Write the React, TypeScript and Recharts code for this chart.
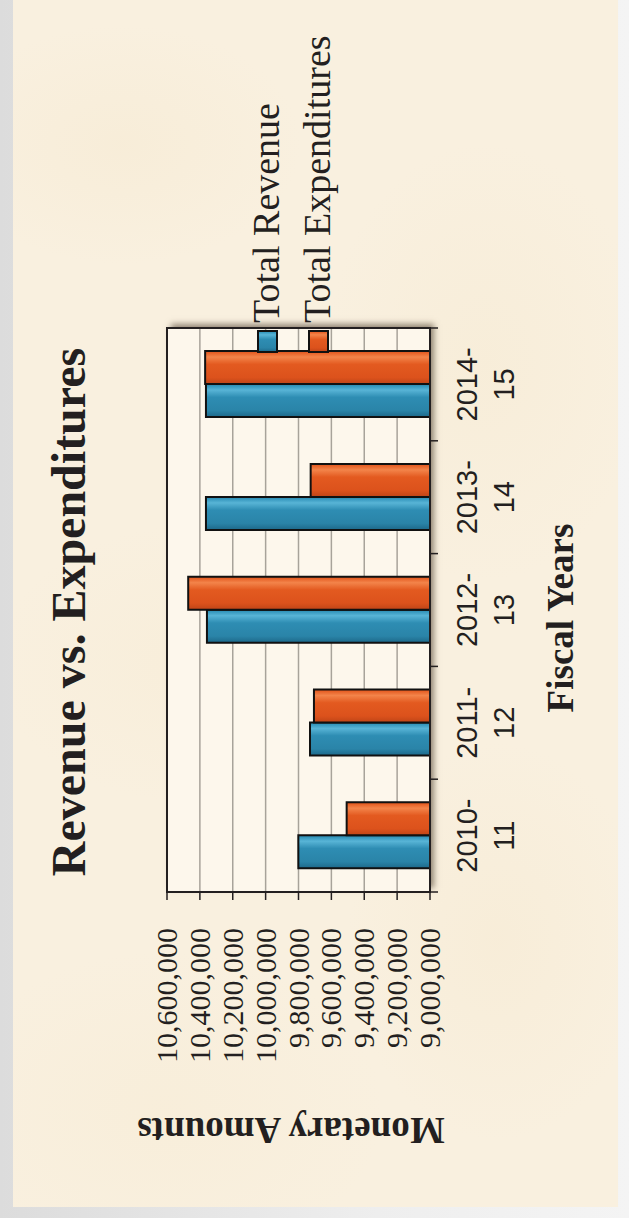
import React from "react";
import {
  BarChart,
  Bar,
  XAxis,
  YAxis,
  CartesianGrid,
  Legend,
  ReferenceArea,
} from "recharts";

const years = ["2010-11", "2011-12", "2012-13", "2013-14", "2014-15"];
const totalRevenue = [9801000, 9730000, 10357000, 10363000, 10363000];
const totalExpenditures = [9507000, 9706000, 10471000, 9726000, 10368000];
const amountTicks = [
  9000000, 9200000, 9400000, 9600000, 9800000, 10000000, 10200000, 10400000,
  10600000,
];

const data = years.map((year, i) => ({
  year,
  revenue: totalRevenue[i],
  expenditures: totalExpenditures[i],
}));

// chart is drawn upright at W x H, then turned a quarter turn to fit the page
const W = 1218;
const H = 629;
const PLOT = { left: 326, top: 167, right: 890, bottom: 430 };
const X_AXIS_H = 150;

const SERIF = '"Liberation Serif", "Times New Roman", serif';
const SANS = '"Liberation Sans", Arial, sans-serif';
const INK = "#231f20";

const seriesOrder = ["revenue", "expenditures"];
const swatch: Record<string, string> = {
  revenue: "url(#gradRevenue)",
  expenditures: "url(#gradExpend)",
};

function YearTick({ x, payload, index }: any) {
  const [first, second] = String(payload.value).split("-");
  const half = (PLOT.right - PLOT.left) / years.length / 2;
  const tickLine = (tx: number) => (
    <line
      x1={tx}
      x2={tx}
      y1={PLOT.bottom}
      y2={PLOT.bottom + 8}
      stroke={INK}
      strokeWidth={1.5}
    />
  );
  return (
    <g>
      {tickLine(x - half)}
      {index === years.length - 1 && tickLine(x + half)}
      <text
        x={x}
        y={PLOT.bottom + 47}
        textAnchor="middle"
        fontFamily={SANS}
        fontSize={29}
        fill={INK}
      >
        {first}-
      </text>
      <text
        x={x}
        y={PLOT.bottom + 84}
        textAnchor="middle"
        fontFamily={SANS}
        fontSize={29}
        fill={INK}
      >
        {second}
      </text>
    </g>
  );
}

function AmountTick({ x, y, payload }: any) {
  return (
    <text
      x={x}
      y={y}
      dy={10}
      textAnchor="end"
      fontFamily={SERIF}
      fontSize={30}
      fill={INK}
    >
      {Number(payload.value).toLocaleString("en-US")}
    </text>
  );
}

function FiscalTitle() {
  return (
    <text
      x={600}
      y={573}
      textAnchor="middle"
      fontFamily={SERIF}
      fontWeight="bold"
      fontSize={37}
      fill={INK}
    >
      Fiscal Years
    </text>
  );
}

function AmountTitle() {
  const cx = 100;
  const cy = 291;
  return (
    <text
      x={cx}
      y={cy}
      transform={`rotate(-90 ${cx} ${cy})`}
      textAnchor="middle"
      fontFamily={SERIF}
      fontWeight="bold"
      fontSize={37}
      fill={INK}
    >
      Monetary Amounts
    </text>
  );
}

function SeriesKey({ payload }: any) {
  if (!payload?.length) return null;
  const items = [...payload].sort(
    (a: any, b: any) =>
      seriesOrder.indexOf(a.dataKey) - seriesOrder.indexOf(b.dataKey)
  );
  return (
    <div style={{ position: "relative" }}>
      {items.map((item: any, i: number) => (
        <div
          key={item.value}
          style={{ position: "absolute", left: 0, top: i * 51, height: 51, width: 300 }}
        >
          <svg
            width={23}
            height={21}
            style={{ position: "absolute", left: 0, top: 10 }}
          >
            <rect
              x={1}
              y={1}
              width={21}
              height={19}
              fill={swatch[item.dataKey] ?? item.color}
              stroke="#111"
              strokeWidth={2}
            />
          </svg>
          <span
            style={{
              position: "absolute",
              left: 30,
              top: 0,
              fontFamily: SERIF,
              fontSize: 38,
              lineHeight: "38px",
              color: INK,
              whiteSpace: "nowrap",
            }}
          >
            {item.value}
          </span>
        </div>
      ))}
    </div>
  );
}

const parchment = [
  "radial-gradient(ellipse 180px 120px at 18% 12%, rgba(240,222,186,0.18), transparent)",
  "radial-gradient(ellipse 160px 220px at 78% 30%, rgba(240,224,190,0.18), transparent)",
  "radial-gradient(ellipse 200px 140px at 30% 55%, rgba(242,226,192,0.16), transparent)",
  "radial-gradient(ellipse 150px 200px at 80% 78%, rgba(240,222,186,0.18), transparent)",
  "radial-gradient(ellipse 220px 160px at 25% 92%, rgba(242,226,192,0.16), transparent)",
  "#f9f0df",
].join(", ");

export default function App() {
  return (
    <div
      style={{
        position: "absolute",
        left: 0,
        top: 0,
        width: 629,
        height: 1218,
        overflow: "hidden",
        background: "linear-gradient(90deg, #dcdcdc, #eeeeee 60%, #f4f4f4)",
      }}
    >
      <svg width={0} height={0} style={{ position: "absolute" }}>
        <defs>
          <linearGradient id="gradRevenue" x1="0" y1="0" x2="1" y2="0">
            <stop offset="0%" stopColor="#1d6889" />
            <stop offset="20%" stopColor="#2a84a8" />
            <stop offset="60%" stopColor="#2e8db3" />
            <stop offset="82%" stopColor="#58b4d6" />
            <stop offset="94%" stopColor="#3597bd" />
            <stop offset="100%" stopColor="#2a82a5" />
          </linearGradient>
          <linearGradient id="gradExpend" x1="0" y1="0" x2="1" y2="0">
            <stop offset="0%" stopColor="#bf4417" />
            <stop offset="20%" stopColor="#dc521c" />
            <stop offset="60%" stopColor="#e35a20" />
            <stop offset="82%" stopColor="#f3844a" />
            <stop offset="94%" stopColor="#e76228" />
            <stop offset="100%" stopColor="#d9531e" />
          </linearGradient>
        </defs>
      </svg>

      <div
        style={{
          position: "absolute",
          left: 13,
          top: 0,
          width: 605,
          height: 1207,
          background: parchment,
        }}
      />

      <div
        style={{
          position: "absolute",
          left: 0,
          top: 0,
          width: W,
          height: H,
          transformOrigin: "0 0",
          transform: `translateY(${W}px) rotate(-90deg)`,
        }}
      >
        <div
          style={{
            position: "absolute",
            left: 0,
            top: 45,
            width: 1212,
            textAlign: "center",
            fontFamily: SERIF,
            fontWeight: "bold",
            fontSize: 48,
            lineHeight: "48px",
            color: INK,
          }}
        >
          Revenue vs. Expenditures
        </div>
        <div
          style={{
            position: "absolute",
            left: PLOT.left,
            top: PLOT.top,
            width: PLOT.right - PLOT.left,
            height: PLOT.bottom - PLOT.top,
            background: "#fdf7ec",
            boxShadow: "4px 4px 6px rgba(60,45,30,0.55)",
          }}
        />
        <BarChart
          width={W}
          height={H}
          data={data}
          margin={{
            top: PLOT.top,
            right: W - PLOT.right,
            bottom: H - PLOT.bottom - X_AXIS_H,
            left: 0,
          }}
          barCategoryGap="21%"
          barGap={0}
        >
          <CartesianGrid vertical={false} stroke="#a8a39a" strokeWidth={1.5} />
          <XAxis
            dataKey="year"
            height={X_AXIS_H}
            interval={0}
            tickLine={false}
            axisLine={{ stroke: INK, strokeWidth: 2 }}
            tick={<YearTick />}
            label={<FiscalTitle />}
          />
          <YAxis
            width={PLOT.left}
            domain={[9000000, 10600000]}
            ticks={amountTicks}
            interval={0}
            tickSize={8}
            tickMargin={28}
            tickLine={{ stroke: INK, strokeWidth: 1.5 }}
            axisLine={{ stroke: INK, strokeWidth: 2 }}
            tick={<AmountTick />}
            label={<AmountTitle />}
          />
          <Legend
            layout="horizontal"
            align="center"
            verticalAlign="middle"
            wrapperStyle={{ left: 865, top: 247, width: 320 }}
            content={<SeriesKey />}
          />
          <Bar
            dataKey="revenue"
            name="Total Revenue"
            fill="url(#gradRevenue)"
            stroke="#111"
            strokeWidth={2}
            isAnimationActive={false}
          />
          <Bar
            dataKey="expenditures"
            name="Total Expenditures"
            fill="url(#gradExpend)"
            stroke="#111"
            strokeWidth={2}
            isAnimationActive={false}
          />
          <ReferenceArea
            y1={9000000}
            y2={10600000}
            fill="none"
            stroke={INK}
            strokeWidth={2}
          />
        </BarChart>
      </div>
    </div>
  );
}
